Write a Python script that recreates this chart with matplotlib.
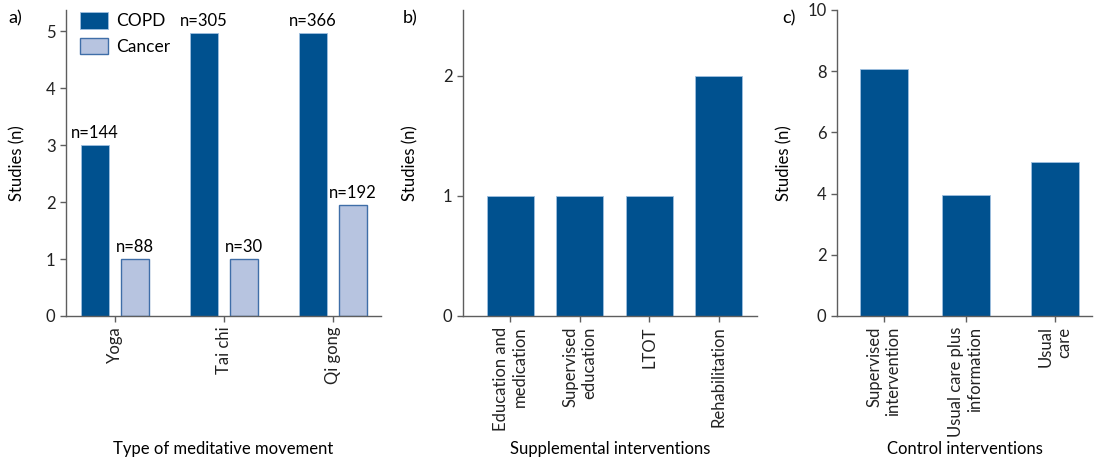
import numpy as np
from matplotlib import pyplot as plt

plt.rcParams['font.family'] = ['Lato', 'DejaVu Sans']
plt.rcParams['font.size'] = 11.5

# panel a
movements = ['Yoga', 'Tai chi', 'Qi gong']
copd_studies = [3, 4.96, 4.96]
cancer_studies = [1, 1, 1.95]
copd_n = ['n=144', 'n=305', 'n=366']
cancer_n = ['n=88', 'n=30', 'n=192']

# panel b
supplemental = ['Education and\nmedication', 'Supervised\neducation', 'LTOT', 'Rehabilitation']
supplemental_studies = [1, 1, 1, 2]

# panel c
controls = ['Supervised\nintervention', 'Usual care plus\ninformation', 'Usual\ncare']
control_pos = [0, 1, 2.1]
control_studies = [8.07, 3.97, 5.04]

dark = '#00518f'
light = '#b7c4e0'
light_edge = '#3f6ea8'
grey = '#5e5e5e'
W, H = 1097, 466

fig = plt.figure(figsize=(W / 100, H / 100), dpi=100)
bottom, top = 1 - 316 / H, 1 - 10 / H

def make_ax(x0, x1):
    ax = fig.add_axes([x0 / W, bottom, (x1 - x0) / W, top - bottom])
    for s in ['top', 'right']:
        ax.spines[s].set_visible(False)
    for s in ['left', 'bottom']:
        ax.spines[s].set_color(grey)
        ax.spines[s].set_linewidth(1.0)
    ax.tick_params(colors=grey, labelcolor='#222222', length=4, width=1, labelsize=12)
    return ax

# a)
ax = make_ax(66, 381)
x = np.arange(len(movements))
off, bw = 0.185, 0.26
b1 = ax.bar(x - off, copd_studies, bw, color=dark, edgecolor='#9fc0e0', linewidth=0.6, label='COPD')
b2 = ax.bar(x + off, cancer_studies, bw, color=light, edgecolor=light_edge, linewidth=1.0, label='Cancer')
for rect, t in zip(b1, copd_n):
    ax.text(rect.get_x() + rect.get_width() / 2, rect.get_height() + 0.07, t, ha='center', va='bottom', fontsize=12)
for rect, t in zip(b2, cancer_n):
    ax.text(rect.get_x() + rect.get_width() / 2, rect.get_height() + 0.07, t, ha='center', va='bottom', fontsize=12)
ax.set_xlim(-0.45, 2.44)
ax.set_ylim(0, 5.37)
ax.set_yticks(range(6))
ax.set_xticks(x)
ax.set_xticklabels(movements, rotation=90, ha='center', va='top')
ax.set_ylabel('Studies (n)', labelpad=15, fontsize=12)
ax.set_xlabel('Type of meditative movement', fontsize=12)
ax.xaxis.set_label_coords(0.5, -0.41)
ax.legend(loc='upper left', bbox_to_anchor=(-0.005, 1.045), frameon=False,
          handlelength=1.6, handleheight=1.1, handletextpad=0.45, labelspacing=0.5, fontsize=12.5)
fig.text(8 / W, 1 - 18 / H, 'a)', fontsize=13, va='center')

# b)
ax = make_ax(463, 757)
x = np.arange(len(supplemental))
ax.bar(x, supplemental_studies, 0.68, color=dark, edgecolor='#9fc0e0', linewidth=0.6)
ax.set_xlim(-0.68, 3.55)
ax.set_ylim(0, 2.55)
ax.set_yticks([0, 1, 2])
ax.set_xticks(x)
ax.set_xticklabels(supplemental, rotation=90, ha='center', va='top', multialignment='right')
ax.set_ylabel('Studies (n)', labelpad=18, fontsize=12)
ax.set_xlabel('Supplemental interventions', fontsize=12)
ax.xaxis.set_label_coords(0.5, -0.41)
fig.text(403 / W, 1 - 18 / H, 'b)', fontsize=13, va='center')

# c)
ax = make_ax(837, 1092)
ax.bar(control_pos, control_studies, 0.59, color=dark, edgecolor='#9fc0e0', linewidth=0.6)
ax.set_xlim(-0.58, 2.55)
ax.set_ylim(0, 10)
ax.set_yticks([0, 2, 4, 6, 8, 10])
ax.set_xticks(control_pos)
ax.set_xticklabels(controls, rotation=90, ha='center', va='top', multialignment='right')
ax.set_ylabel('Studies (n)', labelpad=11, fontsize=12)
ax.set_xlabel('Control interventions', fontsize=12)
ax.xaxis.set_label_coords(0.5, -0.41)
fig.text(782 / W, 1 - 18 / H, 'c)', fontsize=13, va='center')

fig.savefig('out.png', dpi=100)
